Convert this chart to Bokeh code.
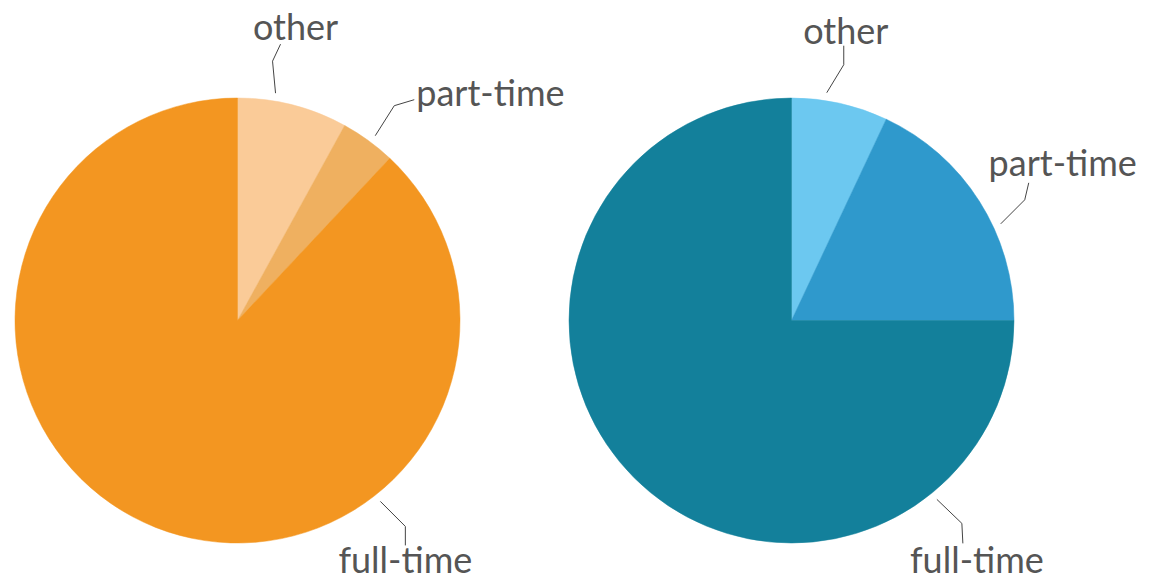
import math
from bokeh.plotting import figure
from bokeh.models import Range1d
from bokeh.core.properties import value
from bokeh.embed import file_html
from bokeh.resources import INLINE

# ---- data ----
categories = ["other", "part-time", "full-time"]
left_values = [8, 4, 88]
right_values = [7, 18, 75]
left_colors = ["#FACB98", "#EFB060", "#F39621"]
right_colors = ["#6CC8F0", "#2F99CC", "#13809B"]

# ---- layout / style (pixels, y downward) ----
W, H = 1151, 582
R = 222.5
LEFT_CENTER = (237, 320)
RIGHT_CENTER = (791, 320)
FONT = "Lato"
FONT_SIZE = "36px"
TEXT_COLOR = "#555555"
LINE_COLOR = "#444444"
TEXT_SHIFT = -11

# label leader-line styling per category: angle (deg clockwise from top),
# elbow offset, end offset, text offset from end, text alignment
left_labels = [
    (9.5, (-3, -32), (8, -17), (15, -7), "center"),
    (36.7, (19, -30), (20, -6), (2, 3), "left"),
    (141.7, (25, 25), (0, 19), (0, 25), "center"),
]
right_labels = [
    (8.8, (17, -28), (0, -19), (2, -5), "center"),
    (65.2, (24, -24), (4, -17), (34, -10), "center"),
    (140.9, (25, 24), (1, 20), (14, 27), "center"),
]


def X(px):
    return px


def Y(py):
    return H - py


p = figure(width=W, height=H, output_backend="svg", toolbar_location=None,
           x_range=Range1d(0, W), y_range=Range1d(0, H),
           min_border=0, outline_line_color=None)
p.axis.visible = False
p.grid.visible = False
p.background_fill_color = "white"
p.border_fill_color = "white"


def draw_pie(center, values, colors, labels):
    total = float(sum(values))
    cum = 0.0
    cx, cy = center
    for cat, v, c, lab in zip(categories, values, colors, labels):
        a0 = math.pi / 2 - 2 * math.pi * cum / total
        cum += v
        a1 = math.pi / 2 - 2 * math.pi * cum / total
        p.wedge(x=X(cx), y=Y(cy), radius=R, start_angle=a0, end_angle=a1,
                direction="clock", fill_color=c, line_color=c, line_width=0.5)
        ang, e_off, n_off, t_off, align = lab
        ar = math.radians(ang)
        rr = R + 8
        sx = cx + rr * math.sin(ar)
        sy = cy - rr * math.cos(ar)
        ex, ey = sx + e_off[0], sy + e_off[1]
        nx, ny = ex + n_off[0], ey + n_off[1]
        p.line([X(sx), X(ex), X(nx)], [Y(sy), Y(ey), Y(ny)],
               line_color=LINE_COLOR, line_width=1)
        p.text(x=[X(nx + t_off[0])], y=[Y(ny + t_off[1] + TEXT_SHIFT)],
               text=[cat], text_font=value(FONT), text_font_size=FONT_SIZE,
               text_color=TEXT_COLOR, text_align=align,
               text_baseline="alphabetic")


draw_pie(LEFT_CENTER, left_values, left_colors, left_labels)
draw_pie(RIGHT_CENTER, right_values, right_colors, right_labels)

open("out.html", "w").write(file_html(p, INLINE))
